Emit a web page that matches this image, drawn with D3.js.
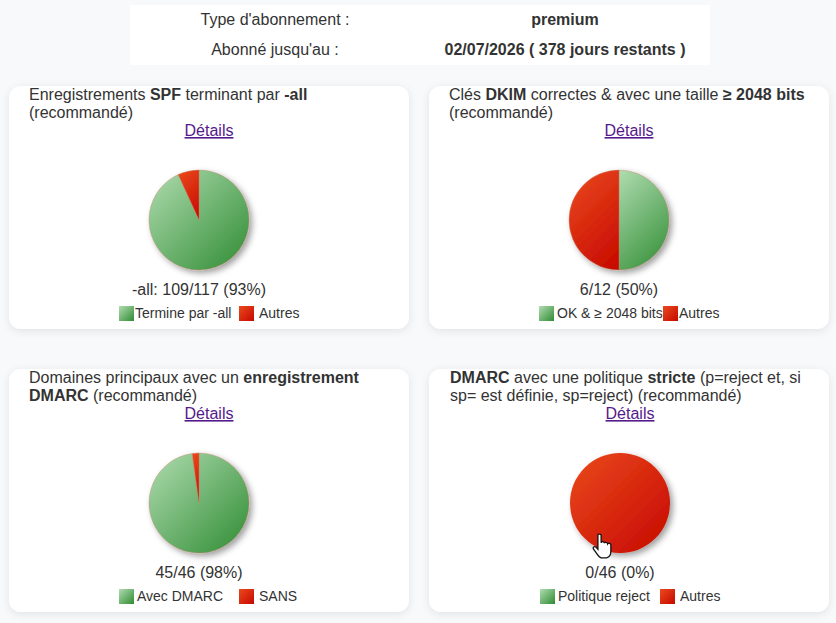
<!DOCTYPE html>
<html lang="fr">
<head>
<meta charset="utf-8">
<title>Tableau de bord</title>
<script src="https://cdn.jsdelivr.net/npm/d3@7/dist/d3.min.js"></script>
<style>
  html, body { margin: 0; padding: 0; background: #f8f9fb; overflow: hidden; }
  svg { display: block; font-family: "Liberation Sans", Arial, sans-serif; fill: #333; }
  .link { fill: #551a8b; text-decoration: underline; }
  text { font-size: 16px; }
  .legend { font-size: 14px; }
</style>
</head>
<body>
<svg id="chart" width="836" height="623"></svg>
<script>
// Subscription summary
const infoLabels = ["Type d'abonnement :", "Abonné jusqu'au :"];
const infoValues = ["premium", "02/07/2026 ( 378 jours restants )"];

// Each title is a list of lines; each line a list of [text, isBold] runs
const titles = [
  [[["Enregistrements ", 0], ["SPF", 1], [" terminant par ", 0], ["-all", 1]], [["(recommandé)", 0]]],
  [[["Clés ", 0], ["DKIM", 1], [" correctes & avec une taille ", 0], ["≥ 2048 bits", 1]], [["(recommandé)", 0]]],
  [[["Domaines principaux avec un ", 0], ["enregistrement", 1]], [["DMARC", 1], [" (recommandé)", 0]]],
  [[["DMARC", 1], [" avec une politique ", 0], ["stricte", 1], [" (p=reject et, si", 0]], [["sp= est définie, sp=reject) (recommandé)", 0]]]
];
const goodCounts  = [109, 6, 45, 0];
const otherCounts = [8, 6, 1, 46];
const captions = ["-all: 109/117 (93%)", "6/12 (50%)", "45/46 (98%)", "0/46 (0%)"];
const goodNames  = ["Termine par -all", "OK & ≥ 2048 bits", "Avec DMARC", "Politique reject"];
const otherNames = ["Autres", "Autres", "SANS", "Autres"];
const detailsLabel = "Détails";

// Layout, relative to each card's left edge
const cardW = 400, cardH = 243;
const cardCol = d3.scaleOrdinal([0, 1], [9, 429]);
const cardRow = d3.scaleOrdinal([0, 1], [86, 369]);
const contentShift = [0, 0, 0, 1];
const legendOffsets = [
  { s1: 110, t1: 126, s2: 230, t2: 250 },
  { s1: 110, t1: 128, s2: 234, t2: 250 },
  { s1: 110, t1: 128, s2: 230, t2: 250 },
  { s1: 110, t1: 128, s2: 230, t2: 250 }
];
const radius = 50;
const sliceStops = {
  good: ["#b0dcb0", "#2f8c33"],
  other: ["#ea4a1d", "#c60800"]
};

const svg = d3.select("#chart");
const defs = svg.append("defs");

// Diagonal gradient between two user-space corners
let gradientCount = 0;
function addGradient(key, x1, y1, x2, y2) {
  const id = "grad" + (gradientCount++);
  const g = defs.append("linearGradient").attr("id", id)
    .attr("gradientUnits", "userSpaceOnUse")
    .attr("x1", x1).attr("y1", y1).attr("x2", x2).attr("y2", y2);
  g.append("stop").attr("offset", "0%").attr("stop-color", sliceStops[key][0]);
  g.append("stop").attr("offset", "100%").attr("stop-color", sliceStops[key][1]);
  return `url(#${id})`;
}

const cardShadow = defs.append("filter").attr("id", "cardShadow")
  .attr("x", "-5%").attr("y", "-5%").attr("width", "110%").attr("height", "112%");
cardShadow.append("feDropShadow").attr("dx", 0).attr("dy", 2).attr("stdDeviation", 4)
  .attr("flood-color", "#000").attr("flood-opacity", 0.09);

const pieShadow = defs.append("filter").attr("id", "pieShadow")
  .attr("x", "-20%").attr("y", "-20%").attr("width", "140%").attr("height", "140%");
pieShadow.append("feDropShadow").attr("dx", 3).attr("dy", 3).attr("stdDeviation", 3)
  .attr("flood-color", "#000").attr("flood-opacity", 0.38);

// Subscription panel
svg.append("rect").attr("x", 130).attr("y", 5).attr("width", 580).attr("height", 60).attr("fill", "#fff");
const infoY = d3.scalePoint().domain([0, 1]).range([25, 55]);
infoLabels.forEach((t, i) => {
  svg.append("text").attr("x", 275).attr("y", infoY(i)).attr("text-anchor", "middle").text(t);
  svg.append("text").attr("x", 565).attr("y", infoY(i)).attr("text-anchor", "middle")
    .attr("font-weight", "bold").text(infoValues[i]);
});

const pie = d3.pie().sort(null).value(d => d.value);
const arc = d3.arc().innerRadius(0).outerRadius(radius);

titles.forEach((lines, i) => {
  const dx = contentShift[i];
  const card = svg.append("g")
    .attr("transform", `translate(${cardCol(i % 2)},${cardRow(i >> 1)})`);

  card.append("rect").attr("width", cardW).attr("height", cardH).attr("rx", 12)
    .attr("fill", "#fff").attr("filter", "url(#cardShadow)");

  const title = card.append("text").attr("xml:space", "preserve");
  lines.forEach((runs, l) => {
    runs.forEach((r, k) => {
      const span = title.append("tspan").attr("font-weight", r[1] ? "bold" : "normal")
        .style("white-space", "pre").text(r[0]);
      if (k === 0) span.attr("x", 20 + dx).attr("y", 14 + l * 18);
    });
  });

  card.append("text").attr("class", "link").attr("x", 200 + dx).attr("y", 50)
    .attr("text-anchor", "middle").text(detailsLabel);

  const slices = pie([
    { key: "good", value: goodCounts[i] },
    { key: "other", value: otherCounts[i] }
  ]).filter(d => d.value > 0);

  card.append("g")
    .attr("transform", `translate(${190 + dx},134)`)
    .attr("filter", "url(#pieShadow)")
    .selectAll("path").data(slices).join("path")
    .attr("d", arc)
    .attr("stroke", slices.length > 1 ? "#c9866a" : "none")
    .attr("stroke-width", 0.4)
    .each(function (d) {
      // Each slice carries its own 45° gradient spanning its bounding box
      const b = this.getBBox();
      const s = (b.width + b.height) / 2;
      const cx = b.x + b.width / 2, cy = b.y + b.height / 2;
      d3.select(this).attr("fill", addGradient(d.data.key, cx - s / 2, cy - s / 2, cx + s / 2, cy + s / 2));
    });

  card.append("text").attr("x", 190 + dx).attr("y", 209).attr("text-anchor", "middle").text(captions[i]);

  // Legend swatches use the same two colour ramps
  const lg = legendOffsets[i];
  const sw1 = dx + lg.s1, sw2 = dx + lg.s2;
  card.append("rect").attr("x", sw1).attr("y", 220).attr("width", 15).attr("height", 15)
    .attr("fill", addGradient("good", sw1, 220, sw1 + 15, 235));
  card.append("rect").attr("x", sw2).attr("y", 220).attr("width", 15).attr("height", 15)
    .attr("fill", addGradient("other", sw2, 220, sw2 + 15, 235));
  card.append("text").attr("class", "legend").attr("x", dx + lg.t1).attr("y", 232).text(goodNames[i]);
  card.append("text").attr("class", "legend").attr("x", dx + lg.t2).attr("y", 232).text(otherNames[i]);
});

// Pointer resting on the last pie
svg.append("path")
  .attr("transform", "translate(592.5,533) scale(1.08)")
  .attr("d", "M5 2 C5 0.6 8 0.6 8 2 L8 9 C8.4 7.6 10.8 7.8 11 9.4 C11.4 8.2 13.8 8.4 14 10 C14.6 9 17 9.4 17 11 L17 17 C17 20 15.5 22.5 13 23 L8 23 C6 22.5 4.5 20 3.5 18.5 L0.8 14.8 C0 13.4 1.8 12 3.2 13 L5 15 Z")
  .attr("fill", "#fff").attr("stroke", "#111").attr("stroke-width", 1.2);
</script>
</body>
</html>
